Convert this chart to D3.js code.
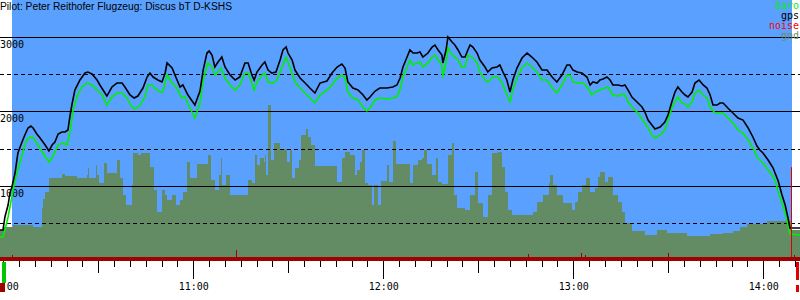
<!DOCTYPE html>
<html><head><meta charset="utf-8">
<script src="https://cdn.jsdelivr.net/npm/d3@7"></script>
<style>html,body{margin:0;padding:0;background:#fff;}svg{display:block;}</style>
</head><body>
<svg id="c" width="800" height="300"></svg>
<script>
// ---- data (time = minutes after 10:00, altitude in metres) ----
const title = "Pilot: Peter Reithofer Flugzeug: Discus bT D-KSHS";
const legendLabels = ["baro", "gps", "noise", "gnd"];
const gridValues = [500, 1000, 1500, 2000, 2500, 3000];
const altLabels = [1000, 2000, 3000];
const hourLabels = ["10:00", "11:00", "12:00", "13:00", "14:00"];

const gpsT = [-1.1,-0.1,0.5,1.5,2.1,2.7,3.7,4.6,5.9,6.8,7.8,8.7,9.4,10.6,11.6,13.2,14.4,15.4,16.3,17.3,18.5,19.5,20.4,21.1,21.7,22.6,24.2,25.8,26.7,28.0,29.6,30.5,32.1,32.7,34.3,35.9,37.5,38.4,40.0,41.3,42.5,44.1,45.4,46.3,47.3,48.8,50.1,51.1,51.7,53.3,54.2,55.8,56.7,58.3,60.5,62.1,63.1,64.3,65.0,65.9,66.8,67.8,69.0,70.0,71.6,73.2,74.7,76.3,77.3,78.5,79.2,80.1,81.7,82.6,83.6,84.8,86.1,87.4,88.3,89.3,89.9,91.2,92.1,93.7,95.3,96.8,98.4,100.0,102.2,103.8,105.4,106.9,107.9,108.8,110.4,112.0,113.6,114.8,115.8,117.4,118.9,121.1,123.0,124.3,125.3,126.2,127.5,128.4,129.4,130.6,131.6,132.5,134.1,135.4,136.3,137.3,138.5,138.8,139.8,140.4,141.7,142.6,143.6,144.8,145.8,146.7,147.4,148.3,149.6,150.5,152.1,153.0,154.3,155.9,156.8,157.8,159.0,160.0,160.9,162.2,163.8,165.4,166.9,168.5,170.1,171.7,173.3,174.8,176.4,178.0,178.9,179.9,181.2,182.7,184.3,185.3,186.2,187.5,188.4,189.4,190.6,191.6,192.5,194.1,195.4,196.3,197.3,198.5,200.1,201.7,202.6,203.6,204.8,205.8,207.4,208.9,209.9,211.1,212.1,213.0,214.3,215.3,216.2,217.5,218.4,219.7,221.0,222.2,223.2,224.1,225.4,226.3,227.3,228.8,230.4,232.0,233.6,235.2,236.7,238.0,238.9,239.9,241.5,242.1,243.1,243.7,244.7,245.9,246.9,247.8,248.4,251.6];
const gpsAlt = [404,404,579,740,902,983,1171,1440,1588,1683,1777,1804,1777,1696,1642,1548,1467,1548,1588,1696,1723,1723,1750,1952,2100,2288,2423,2517,2530,2504,2423,2356,2248,2207,2329,2382,2382,2329,2221,2181,2207,2315,2463,2517,2463,2423,2396,2517,2652,2584,2490,2329,2356,2221,2086,2275,2557,2786,2813,2759,2598,2665,2732,2598,2490,2423,2463,2652,2652,2490,2423,2530,2625,2665,2557,2517,2530,2692,2827,2867,2786,2692,2557,2450,2382,2315,2248,2382,2409,2517,2598,2638,2584,2396,2315,2288,2221,2154,2194,2275,2315,2315,2329,2356,2450,2598,2732,2827,2786,2786,2800,2732,2786,2867,2894,2827,2759,2652,2827,3002,2934,2894,2827,2732,2732,2827,2894,2867,2786,2692,2598,2530,2584,2598,2625,2530,2423,2261,2423,2584,2719,2786,2732,2665,2557,2557,2463,2396,2490,2625,2625,2557,2530,2517,2463,2356,2396,2382,2423,2436,2463,2423,2356,2356,2342,2356,2288,2194,2127,2059,1992,1884,1817,1763,1790,1857,1952,2127,2261,2329,2261,2221,2194,2261,2382,2423,2356,2315,2221,2086,2086,2113,2113,2046,1979,1911,1884,1777,1656,1534,1481,1440,1346,1306,1238,1171,1063,875,740,565,431,431];

const baroT = [-1.1,-0.1,0.5,1.5,2.7,3.7,5.3,6.8,7.8,9.1,10.0,10.9,12.5,14.4,15.7,17.3,18.8,20.1,21.1,22.0,23.3,24.8,26.4,28.0,29.6,31.2,32.7,34.3,35.9,37.5,39.0,40.6,41.6,43.2,44.7,45.7,46.9,47.9,49.5,50.4,51.7,53.3,54.8,56.4,57.4,58.9,60.5,62.1,63.1,64.6,65.9,66.8,67.8,68.7,70.0,71.6,73.2,74.7,76.3,77.3,78.5,79.2,80.1,81.7,82.6,83.6,85.2,86.4,88.0,89.3,90.5,92.1,93.7,95.3,96.8,98.4,100.0,102.2,103.8,105.4,106.9,107.9,108.8,110.4,112.0,113.6,114.8,115.8,117.4,118.9,121.1,123.0,124.3,125.3,126.2,127.5,128.4,129.4,130.6,131.6,132.5,134.1,135.4,136.3,137.3,138.5,138.8,139.8,140.4,141.7,142.6,143.6,144.8,145.8,146.7,148.0,149.6,150.5,152.1,153.0,154.6,156.2,157.5,158.4,160.0,160.9,162.2,163.8,165.4,166.9,168.5,170.1,171.7,173.3,174.8,176.4,178.0,178.9,179.9,181.5,183.1,184.6,185.9,186.9,188.4,190.0,190.9,192.5,194.1,195.4,196.3,197.3,198.8,200.4,201.9,203.6,204.8,205.8,207.4,208.9,209.9,211.1,212.1,213.0,214.3,215.3,216.2,217.5,218.4,219.7,221.0,222.2,223.2,224.7,225.7,227.3,228.8,230.4,232.0,233.6,235.2,236.7,238.0,238.9,239.9,241.5,242.1,243.1,243.7,244.7,245.9,246.9,247.8,248.4,251.6];
const baroAlt = [310,310,404,579,848,1077,1319,1548,1642,1656,1615,1548,1440,1319,1400,1548,1575,1548,1736,2006,2207,2329,2382,2356,2288,2221,2086,2194,2248,2248,2181,2059,2032,2086,2194,2356,2356,2315,2261,2261,2490,2382,2315,2181,2194,2046,1911,2113,2423,2652,2598,2490,2530,2584,2450,2356,2288,2356,2517,2517,2382,2288,2396,2490,2517,2396,2382,2423,2598,2732,2598,2396,2315,2248,2181,2113,2221,2288,2356,2450,2490,2450,2261,2181,2154,2059,2006,2046,2154,2181,2167,2181,2194,2302,2463,2598,2692,2625,2652,2665,2598,2652,2732,2759,2692,2625,2463,2665,2854,2759,2732,2692,2598,2598,2759,2732,2652,2530,2423,2396,2463,2463,2382,2288,2127,2288,2450,2584,2652,2598,2530,2423,2423,2315,2248,2356,2490,2490,2396,2382,2382,2315,2221,2261,2288,2315,2329,2221,2207,2234,2221,2127,2046,1979,1884,1777,1683,1642,1683,1750,1884,2046,2127,2194,2113,2100,2059,2127,2248,2288,2221,2181,2059,1979,1979,1979,1911,1844,1750,1709,1615,1508,1386,1346,1306,1211,1184,1117,1077,915,767,633,471,350,337];

const gndT = [-1.1,-0.1,3.1,9.4,12.2,12.5,13.2,14.4,18.5,19.5,23.3,26.4,26.7,27.1,29.3,29.6,30.2,31.8,32.7,35.9,36.8,37.8,38.7,40.6,40.9,42.5,43.5,46.3,47.6,48.5,50.1,51.1,51.7,53.3,54.5,55.8,56.7,58.0,58.9,61.1,64.6,65.6,66.8,68.1,68.7,69.0,70.3,71.6,77.3,78.5,79.5,80.1,81.1,82.3,82.6,82.9,83.6,84.5,85.5,87.4,89.6,90.5,91.2,92.1,93.4,94.0,95.6,96.2,97.2,98.4,105.4,106.9,107.9,109.5,111.0,111.7,112.6,113.3,114.2,115.1,116.4,117.1,118.3,119.3,121.1,121.8,123.0,124.0,128.4,129.4,130.9,132.2,132.8,133.8,135.4,136.6,137.3,138.5,140.4,141.7,142.3,143.3,145.8,147.4,148.9,149.9,151.5,153.0,154.3,156.2,157.5,158.4,159.4,160.6,167.3,168.5,170.4,172.3,172.6,173.6,174.8,176.7,179.6,180.5,181.5,182.7,184.0,185.3,186.8,187.8,188.4,190.0,190.9,192.5,194.1,195.4,196.3,198.5,202.6,206.4,209.6,215.9,223.2,227.3,230.4,232.6,234.8,241.2,249.0,251.6];
const gndAlt = [404,444,471,444,700,821,915,1104,1158,1131,1104,1144,1238,1104,1279,1144,1036,1306,1171,1346,1104,875,740,1010,1440,1413,1440,1252,942,646,942,875,808,875,740,808,915,1319,1104,1292,1413,1077,942,1144,1373,1010,1144,875,1077,1036,1413,1279,1373,1319,1413,1144,2086,1346,1575,1494,1319,1481,1104,1238,1346,1683,1763,1656,1548,1265,1050,1373,1454,1413,1144,1211,1319,1481,1036,1010,740,1010,740,1063,1279,1050,1602,1292,1036,1279,1346,1373,1481,1292,1144,1373,1050,1023,1413,1575,875,700,673,875,1184,767,579,875,1440,1454,1252,915,673,606,646,781,875,1036,1144,1010,875,767,673,781,915,1010,1104,915,969,1117,1184,1050,1117,875,781,646,498,390,337,404,363,323,350,363,390,444,485,525,404,323,323];

const noiseT = [-1.1,-0.5,-0.3,2.7,3.0,73.5,73.8,165.7,166.0,182.4,182.7,183.7,184.0,209.9,210.2,249.7,250.0,251.6];
const noiseVal = [20,155,20,30,20,55,20,35,20,40,20,30,20,40,20,30,20,20];

const takeoffT = -0.1, landingT = 248.7, landingMarkT = 250.6;

// ---- drawing ----
const W = 800, H = 300;
const base = new Date(2000, 0, 1, 10, 0, 0);
const toDate = m => new Date(base.getTime() + m * 60000);
const x = d3.scaleTime().domain([toDate(-1.05), toDate(251.58)]).range([0, W]);
const y = d3.scaleLinear().domain([0, 3500]).range([260, 0]);
const yn = d3.scaleLinear().domain([0, 100]).range([261, 241]);

const svg = d3.select("#c");
svg.append("rect").attr("width", W).attr("height", H).attr("fill", "#fff");
// sky / plot background
svg.append("rect").attr("x", 12).attr("y", 0).attr("width", 780).attr("height", 257).attr("fill", "#5aa0ff");

const zip = (ts, vs) => ts.map((t, i) => ({t: toDate(t), v: vs[i]}));
const gnd = zip(gndT, gndAlt), gps = zip(gpsT, gpsAlt), baro = zip(baroT, baroAlt), noise = zip(noiseT, noiseVal);

svg.append("path").datum(gnd)
  .attr("d", d3.area().x(d => x(d.t)).y0(257).y1(d => y(d.v)).curve(d3.curveStepAfter))
  .attr("fill", "#648c64").attr("shape-rendering", "crispEdges");

// grid
gridValues.forEach(v => {
  svg.append("line").attr("x1", 0).attr("x2", W)
    .attr("y1", Math.round(y(v)) + 0.5).attr("y2", Math.round(y(v)) + 0.5)
    .attr("stroke", "#000").attr("stroke-width", 1)
    .attr("stroke-dasharray", v % 1000 === 0 ? null : "4,3")
    .attr("shape-rendering", "crispEdges");
});
altLabels.forEach(v => {
  svg.append("text").attr("x", 0).attr("y", Math.round(y(v)) + 11)
    .attr("font-family", "DejaVu Sans Mono").attr("font-size", 10).attr("fill", "#000").text(v);
});

// lines
const line = d3.line().x(d => x(d.t)).y(d => y(d.v));
svg.append("path").datum(baro).attr("d", line).attr("fill", "none")
  .attr("stroke", "#00f000").attr("stroke-width", 1.6);
svg.append("path").datum(gps).attr("d", line).attr("fill", "none")
  .attr("stroke", "#000").attr("stroke-width", 1.6);

// noise band
svg.append("path").datum(noise)
  .attr("d", d3.area().x(d => x(d.t)).y0(261).y1(d => yn(d.v)).curve(d3.curveStepAfter))
  .attr("fill", "#a00000").attr("shape-rendering", "crispEdges");
svg.append("line").attr("x1", Math.round(x(toDate(landingT))) + 0.5).attr("x2", Math.round(x(toDate(landingT))) + 0.5)
  .attr("y1", y(1250)).attr("y2", 257).attr("stroke", "#e00000").attr("stroke-width", 1);

// time axes
const axG = svg.append("g").attr("transform", "translate(0,261)");
function ax(interval, size, labels) {
  const a = d3.axisBottom(x).ticks(interval).tickSize(size)
    .tickFormat(labels ? d3.timeFormat("%H:%M") : "").tickPadding(4);
  const g = axG.append("g").call(a);
  g.select(".domain").remove();
  g.selectAll("line").attr("stroke", "#000").attr("shape-rendering", "crispEdges");
  g.selectAll("text").attr("font-family", "DejaVu Sans Mono").attr("font-size", 10).attr("fill", "#000");
  return g;
}
ax(d3.timeMinute.every(5), 6, false);
ax(d3.timeMinute.every(30), 12, false);
ax(d3.timeHour.every(1), 18, true);

// takeoff / landing markers
svg.append("rect").attr("x", Math.round(x(toDate(takeoffT))) - 1).attr("y", 262).attr("width", 4).attr("height", 21).attr("fill", "#00c800");
svg.append("rect").attr("x", 0).attr("y", 283).attr("width", 5).attr("height", 9).attr("fill", "#a00000");
svg.append("rect").attr("x", Math.round(x(toDate(landingMarkT))) - 1).attr("y", 262).attr("width", 3).attr("height", 18).attr("fill", "#e00000");
svg.append("rect").attr("x", Math.round(x(toDate(landingMarkT))) - 1).attr("y", 285).attr("width", 3).attr("height", 7).attr("fill", "#e00000");

// title
svg.append("text").attr("x", 0).attr("y", 10).attr("font-family", "Liberation Sans, Arial, sans-serif")
  .attr("font-size", 10).attr("textLength", 232).attr("lengthAdjust", "spacingAndGlyphs").attr("fill", "#000").text(title);

// legend
const legColors = ["#00f000", "#000", "#ff0000", "#6e8c6e"];
legendLabels.forEach((l, i) => {
  svg.append("text").attr("x", 799).attr("y", 9 + i * 10).attr("text-anchor", "end")
    .attr("font-family", "DejaVu Sans Mono").attr("font-size", 10).attr("fill", legColors[i]).text(l);
});
</script>
</body></html>
